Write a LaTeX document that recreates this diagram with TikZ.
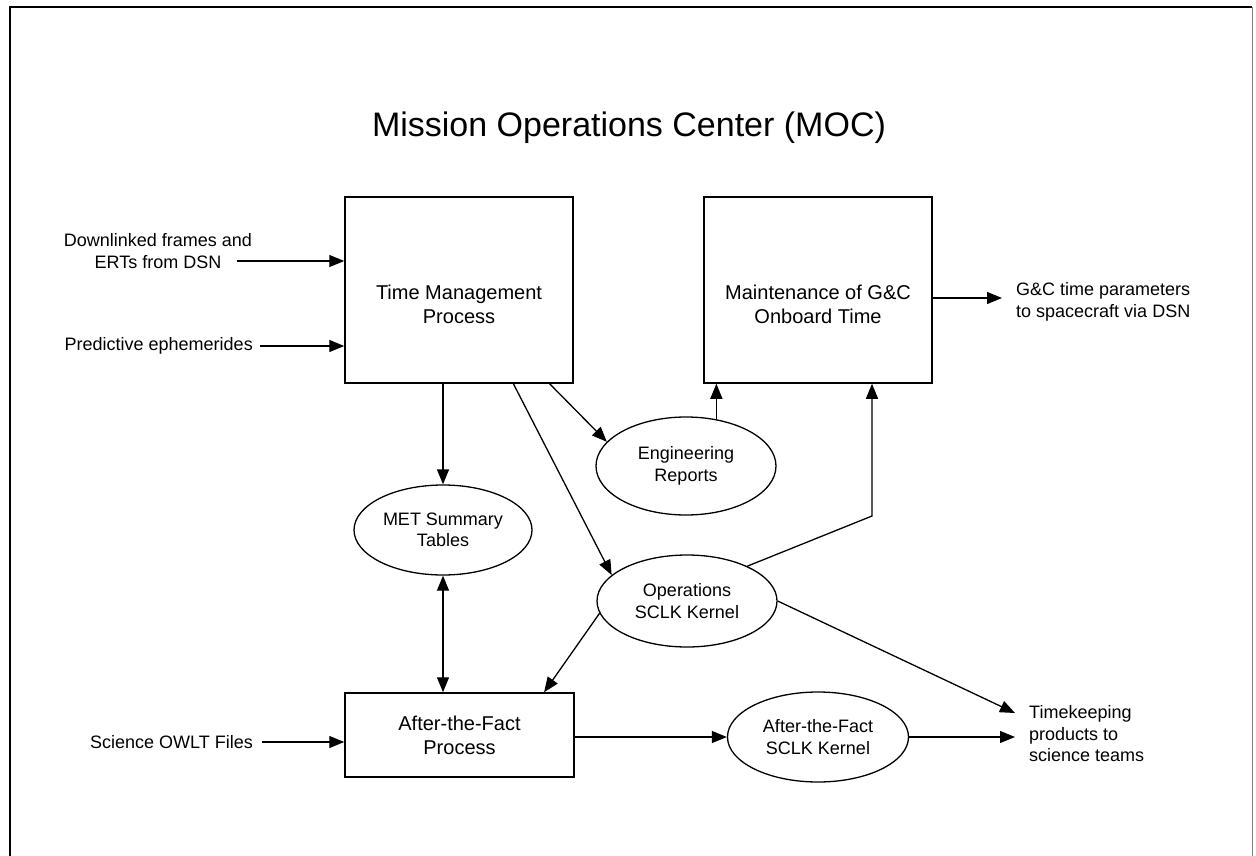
\documentclass[tikz,border=0pt]{standalone}
\usepackage{fontspec}
\setmainfont{Liberation Sans}
\usetikzlibrary{shapes.geometric,arrows.meta,calc}
\begin{document}
\begin{tikzpicture}[x=1pt,y=-1pt,
  box/.style={draw,line width=1.5pt,minimum width=228pt,minimum height=186pt,inner sep=0pt},
  oval/.style={draw,ellipse,line width=1.3pt,inner sep=0pt,align=center,font=\fontsize{18}{21.5}\selectfont},
  lbl/.style={align=center,font=\fontsize{18}{21.5}\selectfont,inner sep=0pt},
  big/.style={align=center,font=\fontsize{20}{24}\selectfont,inner sep=0pt},
  arr/.style={line width=1.3pt,-{Triangle[length=15pt,width=12pt]}},
  darr/.style={line width=1.3pt,{Triangle[length=15pt,width=12pt]}-{Triangle[length=15pt,width=12pt]}}]
\useasboundingbox (0,0) rectangle (1256,856);
% frame
\draw[line width=1.5pt] (10,856) -- (10,7) -- (1252,7);
\draw[line width=1pt,gray] (1252,7) -- (1252,856);
% title
\node[font=\fontsize{34}{40}\selectfont,inner sep=0pt] (title) at (629,128) {Mission Operations Center (MOC)};
% boxes
\node[box] (tmp) at (459,290) {};
\node[big] (tmpt) at (459,304) {Time Management\\Process};
\node[box] (mnt) at (818,290) {};
\node[big] (mntt) at (818,304) {Maintenance of G\&C\\Onboard Time};
\node[box,minimum height=84pt,minimum width=229pt,align=center,font=\fontsize{20}{24}\selectfont] (atf) at (459.5,735) {After-the-Fact\\Process};
% ellipses
\node[oval,minimum width=180pt,minimum height=98pt] (eng) at (686,466) {Engineering\\Reports};
\node[oval,minimum width=178pt,minimum height=90pt] (met) at (443,530) {MET Summary\\Tables};
\node[oval,minimum width=180pt,minimum height=92pt] (ops) at (687,601) {Operations\\SCLK Kernel};
\node[oval,minimum width=181pt,minimum height=90pt] (afk) at (818,737) {After-the-Fact\\SCLK Kernel};
% labels
\node[lbl] (dl) at (158,251) {Downlinked frames and\\ERTs from DSN};
\coordinate (dlstart) at (237,261);
\draw[arr] (dlstart) -- (dlstart -| tmp.west);
\node[lbl,anchor=east] (pe) at (253,346) {Predictive ephemerides};
\draw[arr] ([xshift=7pt]pe.east) -- (pe.east -| tmp.west);
\node[lbl,anchor=east] (owlt) at (253,742) {Science OWLT Files};
\draw[arr] ([xshift=9pt]owlt.east) -- (owlt.east -| atf.west);
\node[lbl,align=left,anchor=west] (gc) at (1016,302) {G\&C time parameters\\to spacecraft via DSN};
\coordinate (gcin) at (1002,298);
\draw[arr] (gcin -| mnt.east) -- (gcin);
\node[lbl,align=left,anchor=west] (tk) at (1029,734) {Timekeeping\\products to\\science teams};
\coordinate (tka) at (1015,713);
\coordinate (tkb) at (1015,737);
% connectors
\draw[arr] (tmp.south -| met.north) -- (met.north);
\draw[arr] ($(tmp.south west)!0.737!(tmp.south east)$) -- (ops.161);
\draw[arr] ($(tmp.south west)!0.895!(tmp.south east)$) -- (eng.163);
\draw[arr] (eng.57) -- (eng.57 |- mnt.south);
\coordinate (bend) at (872,516);
\draw[arr] (ops.30) -- (bend) -- (bend |- mnt.south);
\draw[arr] (ops.east) -- (tka);
\draw[arr] (ops.188) -- ($(atf.north west)!0.867!(atf.north east)$);
\draw[darr] (met.south) -- (met.south |- atf.north);
\draw[arr] (atf.east |- afk.west) -- (afk.west);
\draw[arr] (afk.east) -- (tkb);
\end{tikzpicture}
\end{document}
